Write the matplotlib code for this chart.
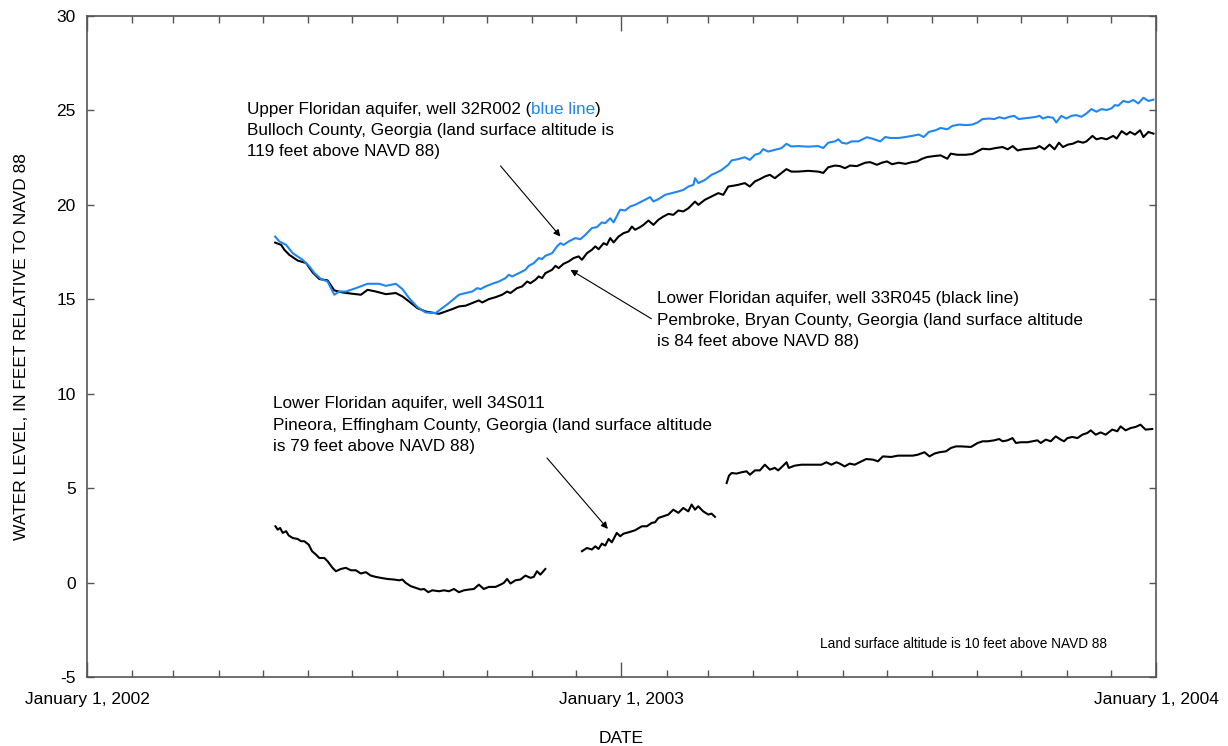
import numpy as np
import pandas as pd
import matplotlib
matplotlib.use('Agg')
import matplotlib.pyplot as plt
import matplotlib.dates as mdates

plt.rcParams['font.family'] = ['Liberation Sans', 'DejaVu Sans']

start = pd.Timestamp('2002-01-01')

# well 32R002, Upper Floridan (blue) -- days since Jan 1, 2002 and water level
blue_days = [128.5, 131.4, 136.0, 140.5, 147.3, 151.9, 155.3, 159.8, 164.3, 168.9,
             172.3, 176.9, 183.7, 191.6, 199.5, 204.1, 210.9, 215.4, 220.0, 225.6,
             231.3, 238.1, 242.6, 247.2,
             254.0, 258.6, 263.1, 266.5, 268.8, 272.2, 276.7, 281.3, 285.8, 288.1,
             290.3, 294.9, 299.4, 301.7, 305.1, 308.5, 310.8, 313.0, 317.6, 321.0,
             323.3, 325.5, 328.9, 333.5, 336.9, 340.3, 344.8, 348.2, 351.6, 353.9,
             357.3, 359.6, 364.1, 367.5, 370.9, 374.3, 376.6, 381.1, 384.5, 386.8,
             390.2, 394.8, 399.3, 403.8, 407.2, 410.7, 414.1, 415.2, 417.5, 422.0,
             426.5, 430.0, 433.4, 437.9, 440.2, 444.7, 449.2, 452.6, 456.1, 459.5,
             461.7, 465.1, 469.7, 474.2, 477.6, 481.0,
             485.6, 492.5, 499.3, 502.8, 506.2, 510.8, 513.1, 515.4, 518.8, 522.2,
             526.8, 532.5, 536.0, 541.7, 545.1, 548.5, 554.3, 558.9, 563.4, 568.0,
             571.4, 574.9, 579.5, 582.9, 587.5, 590.9, 595.5, 600.1, 604.6, 608.1,
             611.5, 616.1, 619.5, 622.9, 626.4, 629.8, 633.2, 636.2, 639.0, 643.5,
             648.1, 650.4, 652.7, 656.1, 659.6, 661.9, 665.3, 668.7, 672.2, 675.6,
             679.0, 682.5, 685.9, 689.3, 692.8, 696.2, 699.6, 701.9, 704.2, 707.6,
             711.1, 714.5, 717.9, 721.4, 724.8, 728.2]
blue_vals = [18.32, 18.06, 17.88, 17.44, 17.09, 16.74, 16.39, 16.07, 15.94, 15.24,
             15.41, 15.41, 15.59, 15.82, 15.82, 15.71, 15.82, 15.54, 15.06, 14.59,
             14.30, 14.27, 14.53, 14.80,
             15.24, 15.33, 15.41, 15.59, 15.54, 15.68, 15.82, 15.94, 16.12, 16.30,
             16.21, 16.38, 16.56, 16.77, 16.91, 17.18, 17.13, 17.30, 17.44, 17.80,
             17.97, 17.88, 18.06, 18.24, 18.18, 18.41, 18.77, 18.82, 19.07, 19.03,
             19.29, 19.07, 19.74, 19.70, 19.91, 20.00, 20.09, 20.27, 20.41, 20.18,
             20.30, 20.53, 20.62, 20.71, 20.79, 20.97, 21.06, 21.41, 21.15, 21.32,
             21.59, 21.71, 21.85, 22.12, 22.35, 22.42, 22.52, 22.38, 22.65, 22.73,
             22.95, 22.82, 22.91, 23.00, 23.23, 23.09,
             23.11, 23.08, 23.11, 23.01, 23.29, 23.36, 23.47, 23.29, 23.24, 23.36,
             23.36, 23.58, 23.51, 23.36, 23.59, 23.54, 23.54, 23.59, 23.65, 23.72,
             23.59, 23.86, 23.95, 24.07, 24.00, 24.18, 24.25, 24.22, 24.25, 24.36,
             24.54, 24.57, 24.54, 24.64, 24.57, 24.66, 24.71, 24.54, 24.57, 24.61,
             24.66, 24.71, 24.57, 24.66, 24.61, 24.36, 24.71, 24.57, 24.71, 24.75,
             24.66, 24.84, 25.07, 24.93, 25.07, 25.02, 25.11, 25.28, 25.25, 25.50,
             25.43, 25.55, 25.37, 25.67, 25.50, 25.57]

# well 33R045, Lower Floridan (black, upper)
w33_days = [128.5, 132.6, 134.8, 138.2, 143.9, 149.6, 154.1, 158.7, 164.3, 168.9,
            174.5, 181.4, 187.1, 191.6, 197.3, 204.1, 210.9, 215.4, 220.0, 225.6,
            231.3, 240.4,
            249.5, 254.0, 258.6, 263.1, 267.6, 269.9, 274.5, 279.0, 283.5, 286.9,
            289.2, 293.7, 297.2, 300.6, 302.8, 306.2, 308.5, 310.8, 313.0, 317.6,
            319.9, 322.1, 325.5, 328.9, 332.3, 335.7, 338.0, 341.4, 344.8, 347.1,
            349.4, 352.8, 355.0, 357.3, 359.6, 363.0, 366.4, 369.8, 372.1, 374.3,
            377.7, 380.0, 383.4, 386.8, 390.2, 393.6, 397.0, 400.4, 403.8, 407.2,
            410.7, 415.2, 417.5, 422.0, 426.5, 431.1, 434.5, 437.9, 441.3, 444.7,
            449.2, 452.6, 456.1, 459.5, 462.9, 466.3, 469.7, 474.2, 477.6, 481.0,
            485.6, 492.5, 499.3, 502.8, 506.2, 510.8, 514.2, 517.6, 521.1, 525.7,
            531.4, 534.8, 539.4, 542.8, 546.3, 549.7, 554.3, 558.9, 563.4, 566.9,
            570.3, 573.7, 578.3, 582.9, 587.5, 589.8, 594.3, 600.1, 604.6, 608.1,
            611.5, 616.1, 620.7, 625.2, 628.7, 632.1, 635.5, 639.0, 643.5, 648.1,
            650.4, 653.8, 657.3, 660.7, 663.7, 666.4, 669.9, 673.3, 676.7, 680.2,
            682.5, 686.6, 689.3, 692.8, 696.2, 700.8, 703.1, 706.5, 709.9, 712.2,
            715.6, 719.1, 721.4, 724.8, 728.2]
w33_vals = [18.0, 17.88, 17.62, 17.35, 17.05, 16.92, 16.42, 16.07, 16.0, 15.47,
            15.36, 15.29, 15.24, 15.50, 15.41, 15.27, 15.33, 15.15, 14.88, 14.53,
            14.35, 14.23,
            14.48, 14.62, 14.66, 14.80, 14.94, 14.83, 15.01, 15.11, 15.24, 15.41,
            15.33, 15.59, 15.68, 15.94, 15.85, 16.03, 16.21, 16.12, 16.38, 16.56,
            16.77, 16.65, 16.88, 17.00, 17.18, 17.27, 17.09, 17.44, 17.62, 17.80,
            17.65, 17.97, 17.88, 18.24, 18.01, 18.32, 18.50, 18.59, 18.85, 18.68,
            18.82, 18.94, 19.17, 18.94, 19.21, 19.38, 19.52, 19.47, 19.70, 19.65,
            19.82, 20.17, 20.00, 20.27, 20.44, 20.62, 20.53, 20.97, 21.01, 21.06,
            21.15, 20.97, 21.24, 21.36, 21.50, 21.59, 21.41, 21.68, 21.89, 21.76,
            21.76, 21.80, 21.76, 21.69, 21.99, 22.08, 22.05, 21.94, 22.08, 22.05,
            22.23, 22.26, 22.12, 22.23, 22.30, 22.15, 22.23, 22.17, 22.26, 22.30,
            22.44, 22.53, 22.58, 22.62, 22.44, 22.71, 22.65, 22.65, 22.69, 22.83,
            22.97, 22.94, 23.01, 23.06, 22.94, 23.11, 22.88, 22.94, 22.97, 23.01,
            23.11, 22.94, 23.19, 22.94, 23.29, 23.06, 23.19, 23.24, 23.36, 23.29,
            23.36, 23.65, 23.47, 23.54, 23.47, 23.65, 23.51, 23.90, 23.72, 23.86,
            23.72, 23.95, 23.59, 23.86, 23.77]

# well 34S011, Lower Floridan (black, lower) - three pieces with gaps in record
w34_days_1 = [128.7, 130.3, 131.9, 133.7, 136.0, 137.8, 140.5, 143.9, 146.2, 148.4,
              151.4, 153.7, 156.4, 158.7, 162.1, 164.3, 167.7, 170.0, 173.4, 176.8,
              180.2, 183.6, 187.0, 190.4, 193.8, 197.2, 200.6, 205.2, 209.7, 213.1,
              215.4, 217.7, 221.1, 224.5, 227.9, 230.2, 233.1, 235.8, 240.4, 243.8,
              247.2, 250.6, 254.0, 257.4, 260.8, 264.2, 267.6, 271.0, 274.4, 279.0,
              282.4, 284.6, 286.9, 289.2, 292.6, 296.0, 299.4, 302.8, 305.1, 307.3,
              309.6, 313.0]
w34_vals_1 = [2.98, 2.80, 2.89, 2.63, 2.72, 2.49, 2.36, 2.31, 2.19, 2.19,
              2.01, 1.66, 1.48, 1.30, 1.30, 1.13, 0.78, 0.60, 0.72, 0.78,
              0.65, 0.65, 0.48, 0.55, 0.37, 0.30, 0.25, 0.19, 0.16, 0.12,
              0.16, -0.02, -0.19, -0.28, -0.37, -0.34, -0.51, -0.41, -0.46, -0.41,
              -0.46, -0.34, -0.51, -0.41, -0.37, -0.34, -0.11, -0.34, -0.23, -0.23,
              -0.11, -0.02, 0.19, -0.05, 0.12, 0.16, 0.37, 0.25, 0.30, 0.60,
              0.42, 0.72]
w34_days_2 = [338.0, 341.4, 344.8, 347.1, 349.3, 351.6, 353.9, 356.2, 358.4, 361.8,
              364.1, 366.4, 369.8, 374.3, 378.9, 382.3, 385.7, 387.9, 390.2, 393.6,
              397.0, 400.4, 403.8, 407.2, 410.6, 412.9, 415.2, 417.4, 420.8, 424.3,
              426.5, 428.8]
w34_vals_2 = [1.66, 1.83, 1.75, 1.92, 1.78, 2.06, 1.96, 2.31, 2.13, 2.63,
              2.45, 2.59, 2.66, 2.77, 2.98, 2.98, 3.16, 3.19, 3.42, 3.51,
              3.60, 3.86, 3.69, 3.95, 3.77, 4.13, 3.86, 4.04, 3.77, 3.60,
              3.65, 3.48]
w34_days_3 = [436.8, 438.4, 440.2, 443.6, 447.0, 450.4, 452.7, 456.1, 459.5, 462.9,
              466.3, 469.7, 472.0, 475.4, 477.7, 479.2, 483.3, 487.9, 494.7, 501.5,
              504.9, 508.3, 511.7, 514.0, 517.4, 520.8, 524.2, 527.6, 532.1, 536.7,
              540.1, 543.5, 549.2, 553.7, 559.4, 563.9, 567.3, 571.9, 575.3, 578.7,
              582.1, 586.6, 590.0, 593.4, 596.8, 603.6, 608.2, 611.6, 615.0, 619.5,
              622.9, 625.2, 628.6, 632.0, 634.3, 637.7, 642.2, 645.6, 649.0, 651.3,
              654.7, 658.1, 661.5, 664.9, 667.2, 669.5, 672.9, 676.3, 679.7, 683.1,
              685.4, 688.8, 692.2, 695.6, 700.1, 703.5, 705.8, 709.2, 712.6, 716.0,
              719.4, 722.8, 727.4]
w34_vals_3 = [5.27, 5.66, 5.80, 5.77, 5.84, 5.89, 5.71, 5.94, 5.94, 6.24,
              5.98, 6.07, 5.94, 6.19, 6.37, 6.07, 6.19, 6.24, 6.24, 6.24,
              6.37, 6.24, 6.37, 6.30, 6.15, 6.30, 6.24, 6.37, 6.54, 6.51,
              6.42, 6.68, 6.65, 6.72, 6.72, 6.72, 6.77, 6.90, 6.68, 6.83,
              6.90, 6.95, 7.13, 7.21, 7.21, 7.18, 7.39, 7.48, 7.48, 7.53,
              7.60, 7.48, 7.53, 7.65, 7.39, 7.43, 7.43, 7.48, 7.53, 7.39,
              7.57, 7.48, 7.74, 7.57, 7.48, 7.65, 7.71, 7.65, 7.83, 7.92,
              8.06, 7.83, 7.95, 7.83, 8.10, 8.01, 8.27, 8.06, 8.18, 8.24,
              8.36, 8.10, 8.13]

x_labels = ['January 1, 2002', 'January 1, 2003', 'January 1, 2004']
y_ticks = [-5, 0, 5, 10, 15, 20, 25, 30]


def to_dates(days):
    return start + pd.to_timedelta(days, unit='D')


blue_color = '#1f87f5'
spine_color = '#555555'

fig = plt.figure(figsize=(12.28, 7.46), dpi=100)
ax = fig.add_axes([0.0708, 0.0925, 0.8706, 0.8861])

ax.plot(to_dates(w33_days), w33_vals, color='black', lw=1.5)
ax.plot(to_dates(blue_days), blue_vals, color=blue_color, lw=1.5)
for d, v in [(w34_days_1, w34_vals_1), (w34_days_2, w34_vals_2), (w34_days_3, w34_vals_3)]:
    ax.plot(to_dates(d), v, color='black', lw=1.5)

ax.set_xlim(pd.Timestamp('2002-01-01'), pd.Timestamp('2004-01-01'))
ax.set_ylim(-5, 30)

ax.set_xticks([pd.Timestamp('2002-01-01'), pd.Timestamp('2003-01-01'), pd.Timestamp('2004-01-01')])
ax.set_xticklabels(x_labels)
ax.xaxis.set_minor_locator(mdates.MonthLocator())
ax.set_yticks(y_ticks)
ax.set_yticklabels([str(v) for v in y_ticks])

ax.tick_params(axis='x', which='major', direction='in', length=11, width=1,
               top=True, labelsize=12.5, pad=11, color=spine_color)
ax.tick_params(axis='x', which='minor', direction='in', length=5, width=1,
               top=True, color=spine_color)
ax.tick_params(axis='y', which='major', direction='in', length=5, width=1,
               right=True, labelsize=12.5, pad=8, color=spine_color)
for s in ax.spines.values():
    s.set_color(spine_color)
    s.set_linewidth(1.2)

ax.set_xlabel('DATE', fontsize=12.5, labelpad=17)
ax.set_ylabel('WATER LEVEL, IN FEET RELATIVE TO NAVD 88', fontsize=12.5, labelpad=20)

fs = 12.3
# well 32R002 label, with "blue line" in blue
t1 = ax.text(to_dates(109.0), 25.03, 'Upper Floridan aquifer, well 32R002 (', fontsize=fs,
             va='center', ha='left')
t2 = ax.annotate('blue line', xy=(1, 0), xycoords=t1, va='bottom', ha='left',
                 fontsize=fs, color=blue_color)
ax.annotate(')', xy=(1, 0), xycoords=t2, va='bottom', ha='left', fontsize=fs)
ax.text(to_dates(109.0), 23.92, 'Bulloch County, Georgia (land surface altitude is',
        fontsize=fs, va='center', ha='left')
ax.text(to_dates(109.0), 22.80, '119 feet above NAVD 88)', fontsize=fs, va='center', ha='left')

ax.text(to_dates(389.5), 15.03, 'Lower Floridan aquifer, well 33R045 (black line)',
        fontsize=fs, va='center', ha='left')
ax.text(to_dates(389.5), 13.90, 'Pembroke, Bryan County, Georgia (land surface altitude',
        fontsize=fs, va='center', ha='left')
ax.text(to_dates(389.5), 12.78, 'is 84 feet above NAVD 88)', fontsize=fs, va='center', ha='left')

ax.text(to_dates(127.3), 9.47, 'Lower Floridan aquifer, well 34S011', fontsize=fs,
        va='center', ha='left')
ax.text(to_dates(127.3), 8.34, 'Pineora, Effingham County, Georgia (land surface altitude',
        fontsize=fs, va='center', ha='left')
ax.text(to_dates(127.3), 7.22, 'is 79 feet above NAVD 88)', fontsize=fs, va='center', ha='left')

ax.text(to_dates(500.5), -3.23, 'Land surface altitude is 10 feet above NAVD 88',
        fontsize=9.8, va='center', ha='left')

arrow = dict(arrowstyle='-|>', color='black', lw=0.8, mutation_scale=10, shrinkA=0, shrinkB=0)
ax.annotate('', xy=(to_dates(323.3), 18.32), xytext=(to_dates(282.4), 22.06), arrowprops=arrow)
ax.annotate('', xy=(to_dates(330.1), 16.56), xytext=(to_dates(385.4), 13.97), arrowprops=arrow)
ax.annotate('', xy=(to_dates(355.7), 2.84), xytext=(to_dates(314.1), 6.60), arrowprops=arrow)

fig.savefig('out.png', dpi=100)
